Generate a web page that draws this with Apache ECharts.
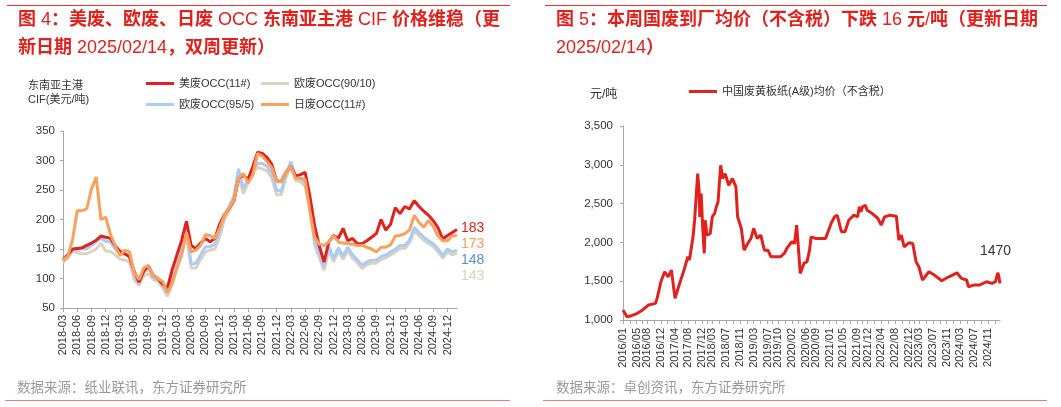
<!DOCTYPE html>
<html><head><meta charset="utf-8">
<script src="https://cdn.jsdelivr.net/npm/echarts@6/dist/echarts.min.js"></script>
<style>html,body{margin:0;padding:0;background:#fff}#c{width:1061px;height:407px}</style>
</head><body><div id="c"></div>
<script>
// ---------- Left chart: 东南亚主港 CIF (monthly) ----------
const months = ('2018-03 2018-04 2018-05 2018-06 2018-07 2018-08 2018-09 2018-10 2018-11 2018-12 ' +
  '2019-01 2019-02 2019-03 2019-04 2019-05 2019-06 2019-07 2019-08 2019-09 2019-10 2019-11 2019-12 ' +
  '2020-01 2020-02 2020-03 2020-04 2020-05 2020-06 2020-07 2020-08 2020-09 2020-10 2020-11 2020-12 ' +
  '2021-01 2021-02 2021-03 2021-04 2021-05 2021-06 2021-07 2021-08 2021-09 2021-10 2021-11 2021-12 ' +
  '2022-01 2022-02 2022-03 2022-04 2022-05 2022-06 2022-07 2022-08 2022-09 2022-10 2022-11 2022-12 ' +
  '2023-01 2023-02 2023-03 2023-04 2023-05 2023-06 2023-07 2023-08 2023-09 2023-10 2023-11 2023-12 ' +
  '2024-01 2024-02 2024-03 2024-04 2024-05 2024-06 2024-07 2024-08 2024-09 2024-10 2024-11 2024-12 ' +
  '2025-01 2025-02').split(' ');

const usOCC = [132,140,150,151,152,156,160,165,172,170,168,155,
  146,142,137,112,94,112,122,105,100,90,84,115,
  140,165,197,156,151,160,168,162,168,192,208,219,
  232,270,275,268,290,314,312,305,293,265,265,280,
  290,274,276,280,240,190,155,128,162,173,168,185,
  164,168,159,159,164,170,176,200,182,192,220,210,
  222,218,232,222,214,207,198,186,167,173,178,183];
const euOCC9010 = [127,134,146,144,142,142,146,150,160,146,146,140,
  133,131,128,98,88,104,108,98,95,84,70,90,
  118,142,172,118,118,132,145,148,150,170,200,215,
  232,272,244,262,280,288,286,282,270,242,242,272,
  290,266,264,256,218,158,135,114,148,128,146,132,
  147,134,127,117,123,126,126,132,135,140,145,151,
  151,160,181,172,165,159,154,145,134,145,140,143];
const euOCC955 = [130,138,148,150,150,150,156,162,168,163,162,150,
  142,142,138,106,92,110,120,102,98,88,76,98,
  126,152,188,124,126,140,154,154,158,180,205,222,
  240,286,252,268,285,295,295,290,278,250,248,278,
  298,272,270,262,225,166,142,120,154,134,152,138,
  153,140,132,122,128,131,131,137,140,145,150,156,
  156,165,187,178,170,164,159,150,139,150,145,148];
const jpOCC = [132,138,165,215,215,218,252,272,200,204,175,155,
  139,148,145,110,98,118,122,104,100,95,76,92,
  118,140,178,145,148,156,174,173,168,185,207,220,
  233,270,278,262,276,312,307,298,288,264,264,280,
  290,270,270,268,215,170,158,156,162,173,162,160,
  159,158,156,156,153,150,145,153,153,157,172,173,
  176,182,207,195,187,198,188,172,164,164,172,173];

// ---------- Right chart: 中国废黄板纸(A级)均价 ----------
const cnDates = ['2016-01-01','2016-02-05','2016-03-06','2016-05-06','2016-06-23','2016-08-12','2016-10-15','2016-11-01','2016-12-01',
  '2017-01-03','2017-02-03','2017-03-04','2017-04-05','2017-05-06','2017-06-23','2017-07-27','2017-08-10','2017-09-11','2017-09-25',
  '2017-10-22','2017-11-03','2017-11-10','2017-11-22','2017-12-05','2017-12-19','2017-12-28',
  '2018-01-12','2018-02-10','2018-02-28','2018-03-20','2018-04-05','2018-04-20','2018-05-13','2018-05-31','2018-06-22','2018-07-23',
  '2018-08-25','2018-09-25','2018-10-10','2018-11-12','2018-12-06',
  '2019-01-07','2019-02-05','2019-03-01','2019-04-01','2019-05-03','2019-06-03','2019-07-05','2019-08-01','2019-10-25','2019-11-26','2019-12-28',
  '2020-02-01','2020-02-25','2020-03-15','2020-04-05','2020-04-15','2020-05-18','2020-06-14','2020-07-07','2020-07-20','2020-08-28','2020-11-25',
  '2021-01-13','2021-02-12','2021-03-08','2021-04-15','2021-05-16','2021-06-18','2021-08-03','2021-09-05','2021-09-20','2021-10-04','2021-10-17','2021-11-12','2021-11-28',
  '2022-01-12','2022-03-03','2022-04-01','2022-05-01','2022-06-17','2022-08-13','2022-09-04','2022-09-26','2022-10-21','2022-12-01',
  '2023-01-05','2023-02-03','2023-02-28','2023-04-01','2023-05-28','2023-07-15','2023-09-18','2023-11-20','2023-12-22',
  '2024-01-30','2024-03-10','2024-04-26','2024-05-10','2024-06-28','2024-08-15','2024-10-18','2024-12-05',
  '2025-01-05','2025-01-25','2025-02-04','2025-02-14'];
const cnPrice = [1130,1043,1051,1086,1129,1193,1214,1300,1493,
  1622,1557,1643,1279,1429,1643,1815,1772,2072,2286,
  2887,2672,2329,2629,2200,1858,2286,
  2093,2115,2329,2372,2458,2522,2994,2822,2887,2737,
  2822,2715,2329,2179,1900,
  1986,2051,2179,2051,2093,1900,1900,1815,1815,1858,1943,
  2008,1986,2222,1815,1600,1729,1750,1900,2072,2051,2051,
  2244,2329,2351,2136,2136,2286,2351,2329,2458,2394,2458,2479,2415,
  2372,2308,2222,2329,2351,2338,2029,2093,1943,1995,
  1986,1750,1686,1515,1622,1579,1506,1557,1579,
  1609,1536,1515,1429,1450,1450,1493,1472,
  1493,1609,1557,1470];
const cnTickLabels = ['2016/01','2016/05','2016/08','2016/12','2017/04','2017/08','2017/12','2018/03','2018/07','2018/11',
  '2019/03','2019/07','2019/10','2020/02','2020/06','2020/09','2021/01','2021/05','2021/09','2021/12',
  '2022/04','2022/08','2022/12','2023/03','2023/07','2023/11','2024/03','2024/07','2024/11'];

// ---------- styling ----------
const RED = '#e3211c', FONT = "'Liberation Sans','Noto Sans CJK SC',sans-serif";
const C_US = '#e3211c', C_EU1 = '#dcd2bf', C_EU2 = '#a9cbf6', C_JP = '#f9a05c';
const AX = '#a6a6a6', TXT = '#333333';

function ts(s) { const p = s.split(/[\/-]/); return new Date(+p[0], +p[1] - 1, p[2] ? +p[2] : 1).getTime(); }
const labelTs = cnTickLabels.map(ts);
const tickTs = [];
labelTs.forEach((t, i) => { tickTs.push(t); if (i < labelTs.length - 1) tickTs.push((t + labelTs[i + 1]) / 2); });
tickTs.push(ts('2025-01-01'));
const labelMap = {}; labelTs.forEach((t, i) => { labelMap[t] = cnTickLabels[i]; });

const chart = echarts.init(document.getElementById('c'), null, { renderer: 'canvas' });

function lineSeries(name, data, color, dy, z) {
  return { name, type: 'line', xAxisIndex: 0, yAxisIndex: 0, data, symbol: 'none', z,
    lineStyle: { width: 3, color }, itemStyle: { color },
    endLabel: { show: true, formatter: p => p.value, color: name === '欧废OCC(95/5)' ? '#5b8ed8' : color,
      fontSize: 14, fontFamily: FONT, offset: [0, dy], distance: 4 } };
}
function legendAt(name, left, top) {
  return { data: [name], left, top, padding: 0, icon: 'rect', itemWidth: 28, itemHeight: 3,
    textStyle: { fontSize: 11, color: TXT, fontFamily: FONT } };
}
const titleRich = {
  b: { fontSize: 18, lineHeight: 28, color: RED, fontWeight: 'bold', fontFamily: FONT },
  n: { fontSize: 18, lineHeight: 28, color: RED, fontWeight: 'normal', fontFamily: FONT }
};

chart.setOption({
  animation: false,
  textStyle: { fontFamily: FONT },
  title: [
    { text: '{b|图} {n|4}{b|：美废、欧废、日废} {n|OCC} {b|东南亚主港} {n|CIF} {b|价格维稳（更}\n{b|新日期} {n|2025/02/14}{b|，双周更新）}',
      left: 18, top: 6, padding: 0, textStyle: { fontSize: 18, lineHeight: 28, color: RED, fontWeight: 'normal', fontFamily: FONT, rich: titleRich } },
    { text: '{b|图} {n|5}{b|：本周国废到厂均价（不含税）下跌} {n|16} {b|元}{n|/}{b|吨（更新日期}\n{n|2025/02/14}{b|）}',
      left: 556, top: 6, padding: 0, textStyle: { fontSize: 18, lineHeight: 28, color: RED, fontWeight: 'normal', fontFamily: FONT, rich: titleRich } },
    { text: '东南亚主港\nCIF(美元/吨)', left: 28, top: 79, padding: 0,
      textStyle: { fontSize: 11, lineHeight: 14, color: TXT, fontWeight: 'normal', fontFamily: FONT } },
    { text: '元/吨', left: 590, top: 89, padding: 0,
      textStyle: { fontSize: 12, color: TXT, fontWeight: 'normal', fontFamily: FONT } },
    { text: '数据来源：纸业联讯，东方证券研究所', left: 17, top: 382, padding: 0,
      textStyle: { fontSize: 13.5, color: '#999999', fontWeight: 'normal', fontFamily: FONT } },
    { text: '数据来源：卓创资讯，东方证券研究所', left: 556, top: 382, padding: 0,
      textStyle: { fontSize: 13.5, color: '#999999', fontWeight: 'normal', fontFamily: FONT } }
  ],
  graphic: [
    { type: 'line', shape: { x1: 7, y1: 5.5, x2: 510, y2: 5.5 }, style: { stroke: '#e8302a', lineWidth: 1 } },
    { type: 'line', shape: { x1: 545, y1: 5.5, x2: 1047, y2: 5.5 }, style: { stroke: '#e8302a', lineWidth: 1 } },
    { type: 'line', shape: { x1: 5, y1: 400.5, x2: 510, y2: 400.5 }, style: { stroke: '#f07c78', lineWidth: 1 } },
    { type: 'line', shape: { x1: 543, y1: 400.5, x2: 1047, y2: 400.5 }, style: { stroke: '#f07c78', lineWidth: 1 } }
  ],
  legend: [
    legendAt('美废OCC(11#)', 146, 78),
    legendAt('欧废OCC(90/10)', 261, 78),
    legendAt('欧废OCC(95/5)', 146, 99),
    legendAt('日废OCC(11#)', 261, 99),
    legendAt('中国废黄板纸(A级)均价（不含税）', 689, 86)
  ],
  grid: [
    { left: 63, top: 131, right: 604, bottom: 99, outerBoundsMode: 'none', containLabel: false },
    { left: 623, top: 126, right: 61, bottom: 87, outerBoundsMode: 'none', containLabel: false }
  ],
  xAxis: [
    { type: 'category', gridIndex: 0, data: months, boundaryGap: false,
      axisLine: { lineStyle: { color: AX } },
      axisTick: { show: true, interval: 2, length: 4, lineStyle: { color: AX } },
      axisLabel: { interval: 2, rotate: 90, fontSize: 11, color: TXT, margin: 7, fontFamily: FONT },
      splitLine: { show: false } },
    { type: 'value', gridIndex: 1, min: ts('2016-01-01'), max: ts('2025-02-14'),
      axisLine: { lineStyle: { color: AX } },
      axisTick: { show: true, customValues: tickTs, length: 4, lineStyle: { color: AX } },
      axisLabel: { customValues: labelTs, rotate: 90, fontSize: 11, color: TXT, margin: 8, fontFamily: FONT,
        formatter: v => labelMap[v] !== undefined ? labelMap[v] : (() => { const d = new Date(v); return d.getFullYear() + '/' + String(d.getMonth() + 1).padStart(2, '0'); })() },
      splitLine: { show: false } }
  ],
  yAxis: [
    { type: 'value', gridIndex: 0, min: 50, max: 350, interval: 50,
      axisLine: { show: true, lineStyle: { color: AX } },
      axisTick: { show: true, length: 3, lineStyle: { color: AX } },
      axisLabel: { fontSize: 11.5, color: TXT, margin: 8, fontFamily: FONT },
      splitLine: { show: false } },
    { type: 'value', gridIndex: 1, min: 1000, max: 3500, interval: 500,
      axisLine: { show: true, lineStyle: { color: AX } },
      axisTick: { show: true, length: 3, lineStyle: { color: AX } },
      axisLabel: { fontSize: 11.5, color: TXT, margin: 10, fontFamily: FONT,
        formatter: v => v.toLocaleString('en-US') },
      splitLine: { show: false } }
  ],
  series: [
    lineSeries('欧废OCC(90/10)', euOCC9010, C_EU1, 23, 2),
    lineSeries('欧废OCC(95/5)', euOCC955, C_EU2, 10, 3),
    lineSeries('美废OCC(11#)', usOCC, C_US, -1, 4),
    lineSeries('日废OCC(11#)', jpOCC, C_JP, 9, 5),
    { name: '中国废黄板纸(A级)均价（不含税）', type: 'line', xAxisIndex: 1, yAxisIndex: 1,
      data: cnDates.map((d, i) => [ts(d), cnPrice[i]]), symbol: 'none',
      lineStyle: { width: 3, color: RED }, itemStyle: { color: RED },
      endLabel: { show: true, formatter: p => p.value[1], color: '#333', fontSize: 14, fontFamily: FONT,
        offset: [-24, -32], distance: 4 } }
  ]
});
</script></body></html>
